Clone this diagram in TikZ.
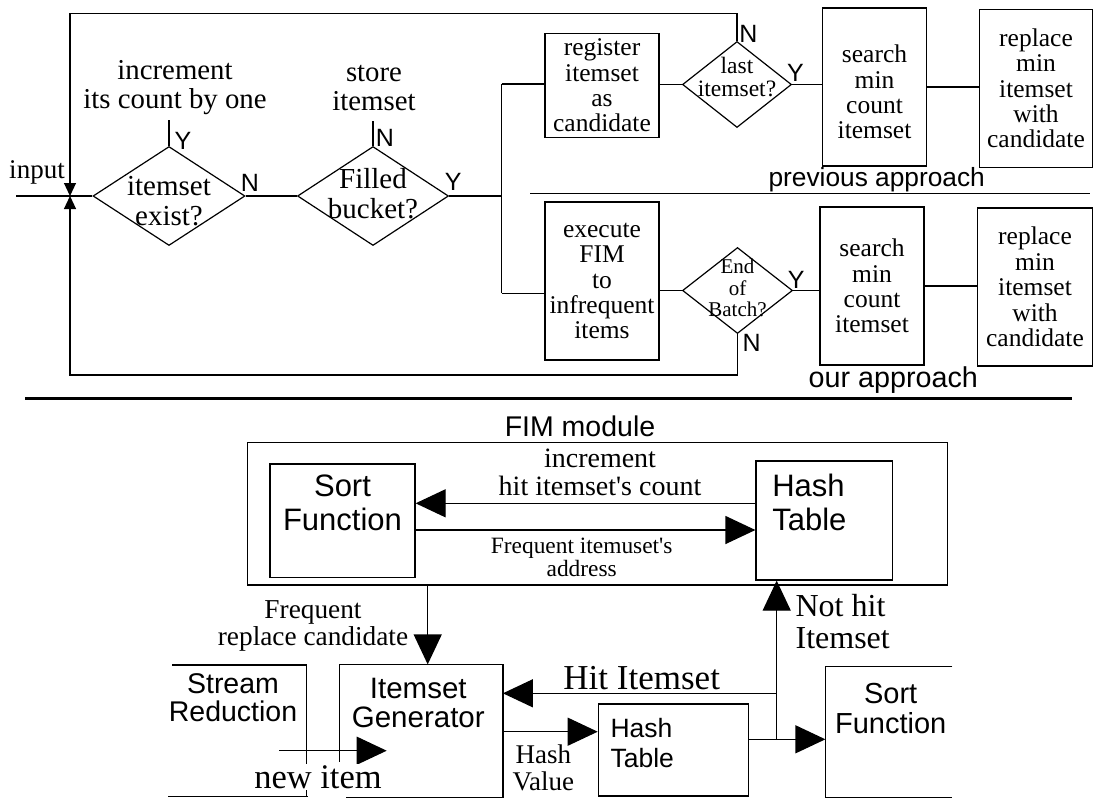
\documentclass[tikz,border=0pt]{standalone}
\usepackage{fontspec}
\setmainfont{Liberation Serif}
\setsansfont{Liberation Sans}
\usetikzlibrary{arrows.meta,shapes.geometric}
\newcommand\fsz[2]{\fontsize{#1}{#2}\selectfont}
\begin{document}
\begin{tikzpicture}[x=1pt,y=-1pt,line width=1.2pt,
  box/.style={draw,inner sep=0pt},
  dia/.style={draw,diamond,inner sep=0pt},
  big/.style={-{Triangle[length=30pt,width=28pt]}},
  small/.style={-{Triangle[length=13pt,width=12pt]}},
  ser/.style={font=\fsz{25.5}{25.4},align=center},
  yn/.style={font=\fsz{25}{25}\sffamily,inner sep=0pt}]
\useasboundingbox (0,0) rectangle (1094,798);
% ---------- top part ----------
\node[dia,minimum width=152pt,minimum height=99pt] (d1) at (169,196) {};
\node[dia,minimum width=151pt,minimum height=99pt] (d2) at (373,196) {};
\node[dia,minimum width=109pt,minimum height=86pt] (d3) at (737,84.5) {};
\node[dia,minimum width=110pt,minimum height=86pt] (d4) at (737.5,290.5) {};
\node[font=\fsz{29}{30},align=center,inner sep=0pt] (t1) at (169,201.5) {itemset\\exist?};
\node[font=\fsz{29}{30},align=center,inner sep=0pt] (t2) at (373,194) {Filled\\bucket?};
\node[font=\fsz{23.5}{23},align=center,inner sep=0pt] (t3) at (737,77.5) {last\\itemset?};
\node[font=\fsz{21}{21.5},align=center,inner sep=0pt] (t4) at (737.5,288.3) {End\\of\\Batch?};

\node[box,minimum width=114pt,minimum height=104pt,ser] (reg) at (602,85.5) {register\\itemset\\as\\candidate};
\node[box,minimum width=114pt,minimum height=158pt,ser] (exe) at (602,281) {execute\\FIM\\to\\infrequent\\items};
\node[box,minimum width=104pt,minimum height=158pt] (se1) at (874.5,87) {};
\node[ser,inner sep=0pt] (se1t) at (874.5,92) {search\\min\\count\\itemset};
\node[box,minimum width=113pt,minimum height=158pt,ser] (re1) at (1036,88.3) {replace\\min\\itemset\\with\\candidate};
\node[box,minimum width=104pt,minimum height=158pt,ser] (se2) at (872,286) {search\\min\\count\\itemset};
\node[box,minimum width=115pt,minimum height=158pt,ser] (re2) at (1035,287) {replace\\min\\itemset\\with\\candidate};

\node[font=\fsz{28.8}{29},align=center,inner sep=0pt] (inc) at (175,87.5) {increment\\its count by one};
\node[font=\fsz{28.8}{29},align=center,inner sep=0pt] (sto) at (374,88) {store\\itemset};
\node[font=\fsz{27}{27},anchor=base,inner sep=0pt] (inp) at (37,178.3) {input};

\node[yn] (y1) at (183,141) {Y};
\node[yn] (n1) at (250,183.3) {N};
\node[yn] (n2) at (385,138.3) {N};
\node[yn] (y2) at (453.3,181.7) {Y};
\node[yn] (n3) at (748.3,34.2) {N};
\node[yn] (y3) at (795.5,73.3) {Y};
\node[yn] (y4) at (796.3,280) {Y};
\node[yn] (n4) at (751.7,342.5) {N};

\coordinate (J) at (70,196);
\coordinate (in0) at (16,196);
\coordinate (tl) at (70,13.5);
\coordinate (tr) at (737,13.5);
\coordinate (bl) at (70,375);
\coordinate (brr) at (737.5,375);
\coordinate (bt) at (501.7,84);
\coordinate (bm) at (501.7,196);
\coordinate (bb) at (501.7,293.3);
\coordinate (s1) at (530,193.3);
\coordinate (s2) at (1090,193.3);
\coordinate (k1) at (25,398.5);
\coordinate (k2) at (1072,398.5);

\draw (in0) -- (d1.west);
\draw[small] (d3.north) -- (tr) -- (tl) -- (J);
\draw[small] (d4.south) -- (brr) -- (bl) -- (J);
\draw (d1.north) -- ++(0,-26);
\draw (d2.north) -- ++(0,-25);
\draw (d1.east) -- (d2.west);
\draw (d2.east) -- (bm);
\draw (bt) -- (bb);
\draw (bt) -- (bt -| reg.west);
\draw (bb) -- (bb -| exe.west);
\draw (reg.east |- d3.west) -- (d3.west);
\draw (d4.west -| exe.east) -- (d4.west);
\draw (d3.east) -- (d3.east -| se1.west);
\draw (se1.east) -- (se1.east -| re1.west);
\draw (d4.east) -- (d4.east -| se2.west);
\draw (se2.east) -- (se2.east -| re2.west);
\draw (s1) -- (s2);
\draw[line width=2.6pt] (k1) -- (k2);
\node[font=\fsz{26.3}{26}\sffamily,anchor=base,inner sep=0pt] (prev) at (876.7,186.5) {previous approach};
\node[font=\fsz{28.7}{28}\sffamily,anchor=base,inner sep=0pt] (our) at (893.3,387.5) {our approach};

% ---------- bottom part ----------
\node[box,minimum width=700pt,minimum height=142.3pt] (fim) at (597.3,513.85) {};
\node[font=\fsz{28.5}{28}\sffamily,anchor=base,inner sep=0pt] (fimt) at (580,436.7) {FIM module};
\node[box,minimum width=145pt,minimum height=113.7pt] (sfa) at (342.5,520.85) {};
\node[font=\fsz{31}{33.4}\sffamily,align=center,inner sep=0pt] (sfat) at (342.5,503) {Sort\\Function};
\node[box,minimum width=136.7pt,minimum height=119pt] (hta) at (824.35,520.5) {};
\node[font=\fsz{31}{33.4}\sffamily,align=left,anchor=west,inner sep=0pt] (htat) at (771.7,502.5) {Hash\\Table};

\coordinate (yA) at (0,503.3);
\coordinate (yB) at (0,530);
\coordinate (yC) at (0,731.7);
\draw[big] (hta.west |- yA) -- (sfa.east |- yA);
\draw[big] (sfa.east |- yB) -- (hta.west |- yB);
\node[font=\fsz{28}{28.5},align=center,inner sep=0pt] (lbinc) at (600,472.5) {increment\\hit itemset\textquotesingle s count};
\node[font=\fsz{23.4}{23.3},align=center,inner sep=0pt] (lbfa) at (581.7,557.5) {Frequent itemuset\textquotesingle s\\address};

\node[inner sep=0pt,minimum width=162.3pt,minimum height=132pt] (gen) at (421.15,731) {};
\draw (gen.north west) -- (gen.north east) -- (gen.south east) -- ([xshift=6.7pt]gen.south west);
\draw (gen.north west) -- ([yshift=-98pt]gen.north west);
\node[font=\fsz{29.5}{29}\sffamily,align=center,inner sep=0pt] (gent) at (418.3,702.5) {Itemset\\Generator};

\coordinate (fd) at (427.7,585);
\draw[big] (fd) -- (fd |- gen.north);
\node[font=\fsz{27.3}{26.6},align=center,inner sep=0pt] (lbfr) at (313,626) {Frequent\\replace candidate};

\coordinate (st1) at (172,665);
\coordinate (st2) at (306.7,665);
\coordinate (st3) at (306.7,797);
\coordinate (sb1) at (168,796.5);
\coordinate (sb2) at (308,796.5);
\draw (st1) -- (st2) -- (st3);
\draw (sb1) -- (sb2);
\node[font=\fsz{28.5}{28.4}\sffamily,align=center,inner sep=0pt] (strt) at (233,697.5) {Stream\\Reduction};

\coordinate (ni0) at (279.3,750.7);
\coordinate (ni1) at (386.7,750.7);
\draw[big] (ni0) -- (ni1);
\node[fill=white,inner sep=1pt,font=\fsz{34.5}{34.5},anchor=base] (nit) at (318,788.3) {new item};

\node[box,minimum width=150pt,minimum height=92pt] (htb) at (673.3,750) {};
\node[font=\fsz{26.5}{30}\sffamily,align=left,anchor=west,inner sep=0pt] (htbt) at (610,743) {Hash\\Table};
\node[inner sep=0pt,minimum width=125.7pt,minimum height=130pt] (sfb) at (888.85,731.7) {};
\draw (sfb.north east) -- (sfb.north west) -- (sfb.south west) -- (sfb.south east);
\node[font=\fsz{29}{30}\sffamily,align=center,inner sep=0pt] (sfbt) at (890.7,709) {Sort\\Function};

\coordinate (jh) at (776.7,693.3);
\coordinate (jn) at (776.7,739.3);
\draw[big] (jh) -- (jh -| gen.east);
\draw[big] (jn) -- (jn |- hta.south);
\draw[big] (gen.east |- yC) -- (htb.west |- yC);
\draw[big] (htb.east |- jn) -- (sfb.west |- jn);

\node[font=\fsz{35}{35},anchor=base,inner sep=0pt] (hit) at (641.7,689) {Hit Itemset};
\node[font=\fsz{32}{31.7},align=left,anchor=west,inner sep=0pt] (nh) at (795,621.7) {Not hit\\Itemset};
\node[font=\fsz{27}{27},align=center,inner sep=0pt] (hv) at (543.3,768) {Hash\\Value};
\end{tikzpicture}
\end{document}
